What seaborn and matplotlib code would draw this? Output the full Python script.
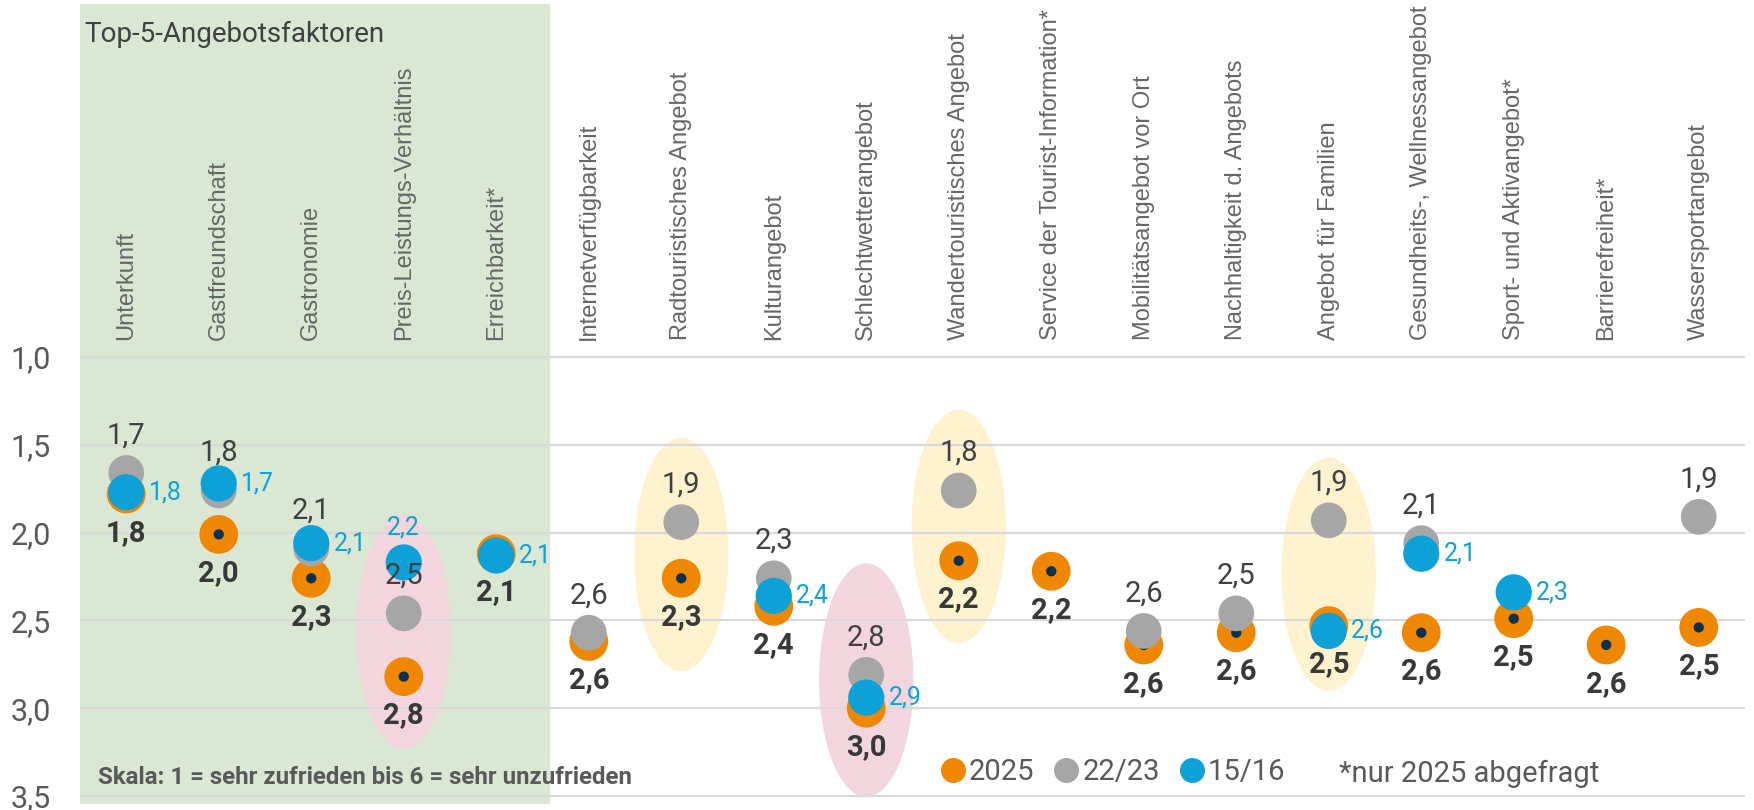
import numpy as np
import pandas as pd
import matplotlib
matplotlib.use("Agg")
import matplotlib.pyplot as plt
import seaborn as sns
from matplotlib.patches import Rectangle, Ellipse
from matplotlib.lines import Line2D

# ==================================
# DATA (Mittelwerte, Skala 1-6)

categories = ["Unterkunft", "Gastfreundschaft", "Gastronomie", "Preis-Leistungs-Verhältnis",
              "Erreichbarkeit*", "Internetverfügbarkeit", "Radtouristisches Angebot", "Kulturangebot",
              "Schlechtwetterangebot", "Wandertouristisches Angebot", "Service der Tourist-Information*",
              "Mobilitätsangebot vor Ort", "Nachhaltigkeit d. Angebots", "Angebot für Familien",
              "Gesundheits-, Wellnessangebot", "Sport- und Aktivangebot*", "Barrierefreiheit*",
              "Wassersportangebot"]

nan = np.nan
val_2025 = [1.78, 2.01, 2.26, 2.82, 2.12, 2.62, 2.26, 2.42, 3.00, 2.16, 2.22, 2.64,
            2.57, 2.53, 2.57, 2.49, 2.64, 2.54]
val_2223 = [1.66, 1.76, 2.09, 2.46, nan, 2.57, 1.94, 2.26, 2.81, 1.76, nan, 2.56,
            2.46, 1.93, 2.06, nan, nan, 1.91]
val_1516 = [1.77, 1.72, 2.06, 2.17, 2.13, nan, nan, 2.36, 2.94, nan, nan, nan,
            nan, 2.56, 2.12, 2.34, nan, nan]

series_names = ["2025", "22/23", "15/16"]
yticks = [1.0, 1.5, 2.0, 2.5, 3.0, 3.5]

# highlighted columns: (category, ellipse centre, colour)
highlights = [("Preis-Leistungs-Verhältnis", 2.565, "pink"),
              ("Radtouristisches Angebot", 2.124, "yellow"),
              ("Schlechtwetterangebot", 2.84, "pink"),
              ("Wandertouristisches Angebot", 1.964, "yellow"),
              ("Angebot für Familien", 2.237, "yellow")]
blue_label_above = ["Preis-Leistungs-Verhältnis"]

ORANGE = "#ef8700"
GRAY = "#a6a6a6"
BLUE = "#0ea1d8"
NAVY = "#0c3050"
GREEN = "#d9e7d3"
FILL = {"pink": "#f2d5dd", "yellow": "#fff3cf"}

NARROW = ["Liberation Sans Narrow", "Roboto", "DejaVu Sans"]
REG = ["Liberation Sans", "DejaVu Sans"]

def fmt(v):
    return f"{v:.1f}".replace(".", ",")

df = pd.DataFrame({"pos": np.arange(len(categories)), "Kategorie": categories,
                   "2025": val_2025, "22/23": val_2223, "15/16": val_1516})

# ==================================
# PLOT

sns.set_theme(style="white")
plt.rcParams['font.family'] = NARROW

W, H = 1754, 810
fig = plt.figure(figsize=(W / 100, H / 100), dpi=100)
ax = fig.add_axes([80 / W, 0, (1745 - 80) / W, 1])
ax.set_xlim(-0.5, 17.5)
ax.set_ylim(3.58, -1.034)

# Top-5 box and highlight ellipses
ax.add_patch(Rectangle((-0.5, -1.01), 5.08, 4.555, color=GREEN, lw=0, zorder=0.1))
for cat, yc, col in highlights:
    ax.add_patch(Ellipse((categories.index(cat), yc), 1.02, 1.33, color=FILL[col], lw=0, zorder=0.2))

# grid
ax.set_yticks(yticks)
ax.set_yticklabels([fmt(t) for t in yticks])
ax.set_xticks([])
ax.set_axisbelow(True)
ax.grid(axis="y", color="#d9d9d9", lw=1.6)
ax.tick_params(axis="y", length=0, pad=21, labelsize=22, labelcolor="#595959")
sns.despine(ax=ax, left=True, bottom=True)

# points
sns.scatterplot(data=df, x="pos", y="2025", s=780, color=ORANGE, edgecolor="none",
                ax=ax, zorder=3, legend=False)
sns.scatterplot(data=df, x="pos", y="2025", s=55, color=NAVY, edgecolor="none",
                ax=ax, zorder=3.1, legend=False)
sns.scatterplot(data=df, x="pos", y="22/23", s=660, color=GRAY, edgecolor="none",
                ax=ax, zorder=4, legend=False)
sns.scatterplot(data=df, x="pos", y="15/16", s=680, color=BLUE, edgecolor="none",
                ax=ax, zorder=5, legend=False)
ax.set_xlabel("")
ax.set_ylabel("")

# value labels
for _, r in df.iterrows():
    i = r["pos"]
    ax.annotate(fmt(r["2025"]), (i, r["2025"]), xytext=(0, -28), textcoords="offset points",
                ha="center", va="center", fontsize=21, fontweight="bold", color="#383838", zorder=6)
    if not np.isnan(r["22/23"]):
        ax.annotate(fmt(r["22/23"]), (i, r["22/23"]), xytext=(0, 27), textcoords="offset points",
                    ha="center", va="center", fontsize=21, color="#404040", zorder=6)
    if not np.isnan(r["15/16"]):
        if r["Kategorie"] in blue_label_above:
            ax.annotate(fmt(r["15/16"]), (i, r["15/16"]), xytext=(0, 25), textcoords="offset points",
                        ha="center", va="center", fontsize=18, color=BLUE, zorder=6)
        else:
            ax.annotate(fmt(r["15/16"]), (i, r["15/16"]), xytext=(16, 0), textcoords="offset points",
                        ha="left", va="center", fontsize=18, color=BLUE, zorder=6)

# category labels
for i, cat in enumerate(categories):
    ax.text(i, 0.9, cat, rotation=90, ha="center", va="bottom", fontsize=17,
            color="#666666", family=REG)

# texts
fig.text(84 / W, 1 - 34 / H, "Top-5-Angebotsfaktoren", fontsize=20, color="#404040",
         ha="left", va="center")
fig.text(98 / W, 1 - 777 / H, "Skala: 1 = sehr zufrieden bis 6 = sehr unzufrieden",
         fontsize=17.3, fontweight="bold", color="#595959", ha="left", va="center")
fig.text(1339 / W, 1 - 774 / H, "*nur 2025 abgefragt", fontsize=21, color="#595959",
         family=["Roboto", "DejaVu Sans"], ha="left", va="center")

# legend
handles = [Line2D([], [], marker="o", ls="", markersize=18, markerfacecolor=c,
                  markeredgecolor="none", label=l)
           for c, l in zip([ORANGE, GRAY, BLUE], series_names)]
leg = ax.legend(handles=handles, loc="center left", bbox_to_anchor=(938 / W, 1 - 772 / H),
                bbox_transform=fig.transFigure, ncol=3, frameon=False, fontsize=21,
                handletextpad=0.05, columnspacing=0.6, handlelength=1.0,
                borderpad=0, borderaxespad=0)
for t in leg.get_texts():
    t.set_color("#595959")

fig.savefig("out.png", dpi=100, facecolor="white")
